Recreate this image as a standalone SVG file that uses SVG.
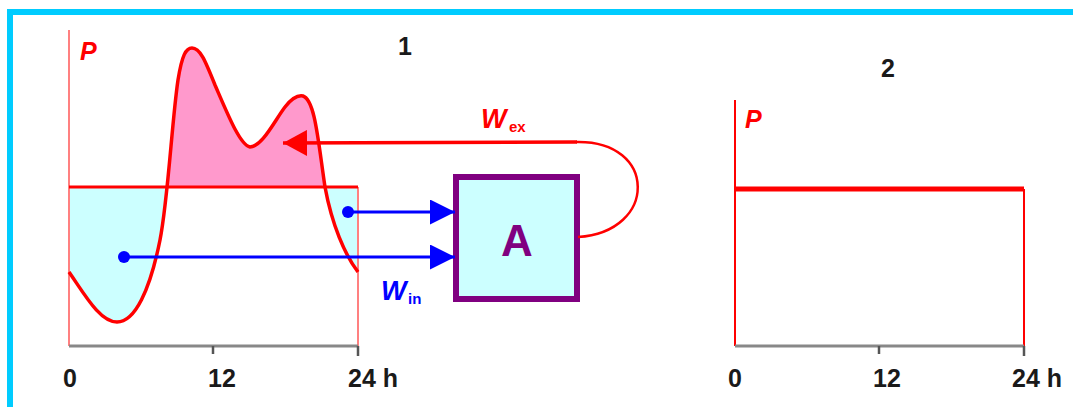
<svg xmlns="http://www.w3.org/2000/svg" width="1073" height="407" viewBox="0 0 1073 407">
<style>
.num{font-family:"Liberation Sans",Arial,sans-serif;font-weight:bold;font-size:25px;fill:#1a1a1a}
.p{font-family:"Liberation Sans",Arial,sans-serif;font-weight:bold;font-style:italic;font-size:25px;fill:#ff0000}
.w{font-family:"Liberation Sans",Arial,sans-serif;font-weight:bold;font-style:italic;font-size:27px}
.sub{font-family:"Liberation Sans",Arial,sans-serif;font-weight:bold;font-size:15px}
.axisL{stroke:#ff8080;stroke-width:2;fill:none}
.xaxis{stroke:#888;stroke-width:3;fill:none}
.tick{stroke:#555;stroke-width:2.5}
</style>
<defs>
<marker id="ab" markerWidth="25" markerHeight="25" refX="25" refY="12.5" orient="auto" markerUnits="userSpaceOnUse"><path d="M0,0 L25,12.5 L0,25 Z" fill="#0000ff"/></marker>
<marker id="ar" markerWidth="24" markerHeight="26" refX="24" refY="13" orient="auto" markerUnits="userSpaceOnUse"><path d="M0,0 L24,13 L0,26 Z" fill="#ff0000"/></marker>
<clipPath id="above"><rect x="69" y="0" width="289" height="187"/></clipPath>
<clipPath id="below"><rect x="69" y="187" width="289" height="160"/></clipPath>
</defs>
<rect width="1073" height="407" fill="#ffffff"/>
<path d="M10,407 L10,12 L1073,12" fill="none" stroke="#00ccff" stroke-width="6"/>

<g id="chart1">
<path clip-path="url(#above)" fill="#ff99cc" d="M69,272 C85,295 100,322 117,322 C135,322 150,290 160,240 C168,200 172,120 178,80 C182,55 186,48 192,48 C200,48 205,60 215,85 C228,115 240,145 250,147 C262,147 275,120 285,107 C292,98 298,95 303,96 C315,100 318,140 325,187 C332,225 345,255 358,272 L358,187 L69,187 Z"/>
<path clip-path="url(#below)" fill="#ccffff" d="M69,272 C85,295 100,322 117,322 C135,322 150,290 160,240 C168,200 172,120 178,80 C182,55 186,48 192,48 C200,48 205,60 215,85 C228,115 240,145 250,147 C262,147 275,120 285,107 C292,98 298,95 303,96 C315,100 318,140 325,187 C332,225 345,255 358,272 L358,187 L69,187 Z"/>
<line class="axisL" x1="69" y1="30" x2="69" y2="346"/>
<line class="axisL" x1="358" y1="187" x2="358" y2="346"/>
<line x1="69" y1="187" x2="358" y2="187" stroke="#ff0000" stroke-width="3"/>
<line class="xaxis" x1="69" y1="346" x2="358" y2="346"/>
<line class="tick" x1="213" y1="346" x2="213" y2="354" stroke="#888"/>
<line class="tick" x1="358" y1="346" x2="358" y2="356"/>
<path fill="none" stroke="#ff0000" stroke-width="3.5" d="M69,272 C85,295 100,322 117,322 C135,322 150,290 160,240 C168,200 172,120 178,80 C182,55 186,48 192,48 C200,48 205,60 215,85 C228,115 240,145 250,147 C262,147 275,120 285,107 C292,98 298,95 303,96 C315,100 318,140 325,187 C332,225 345,255 358,272"/>
<text class="p" x="80" y="60">P</text>
<text class="num" x="405" y="55" text-anchor="middle">1</text>
<text class="num" x="70" y="387" text-anchor="middle">0</text>
<text class="num" x="222" y="387" text-anchor="middle">12</text>
<text class="num" x="348" y="387">24 h</text>
</g>

<g id="nodeA">
<rect x="456" y="177" width="121" height="122" fill="#ccffff" stroke="#800080" stroke-width="6"/>
<text x="517" y="256" text-anchor="middle" font-family="Liberation Sans,Arial,sans-serif" font-weight="bold" font-size="44" fill="#800080">A</text>
</g>

<g id="connectors">
<line x1="348" y1="212" x2="455" y2="212" stroke="#0000ff" stroke-width="3" marker-end="url(#ab)"/>
<circle cx="348" cy="212" r="6" fill="#0000ff"/>
<line x1="124" y1="257" x2="455" y2="257" stroke="#0000ff" stroke-width="3" marker-end="url(#ab)"/>
<circle cx="124" cy="257" r="6" fill="#0000ff"/>
<path d="M578,237 C658,232 658,140 576,142" fill="none" stroke="#ff0000" stroke-width="2.5"/>
<line x1="577" y1="142" x2="283" y2="143" stroke="#ff0000" stroke-width="3.5" marker-end="url(#ar)"/>
<text class="w" x="481" y="128" fill="#ff0000">W</text><text class="sub" x="509" y="132" fill="#ff0000">ex</text>
<text class="w" x="381" y="300" fill="#0000ff">W</text><text class="sub" x="408" y="304" fill="#0000ff">in</text>
</g>

<g id="chart2">
<line x1="735" y1="100" x2="735" y2="346" stroke="#ff0000" stroke-width="2"/>
<line x1="735" y1="189" x2="1024" y2="189" stroke="#ff0000" stroke-width="5"/>
<line x1="1024" y1="189" x2="1024" y2="346" stroke="#ff0000" stroke-width="2"/>
<line class="xaxis" x1="735" y1="346" x2="1024" y2="346"/>
<line class="tick" x1="879" y1="346" x2="879" y2="354" stroke="#888"/>
<line class="tick" x1="1024" y1="346" x2="1024" y2="356"/>
<text class="p" x="745" y="128">P</text>
<text class="num" x="888" y="77" text-anchor="middle">2</text>
<text class="num" x="735" y="387" text-anchor="middle">0</text>
<text class="num" x="887" y="387" text-anchor="middle">12</text>
<text class="num" x="1012" y="387">24 h</text>
</g>
</svg>
